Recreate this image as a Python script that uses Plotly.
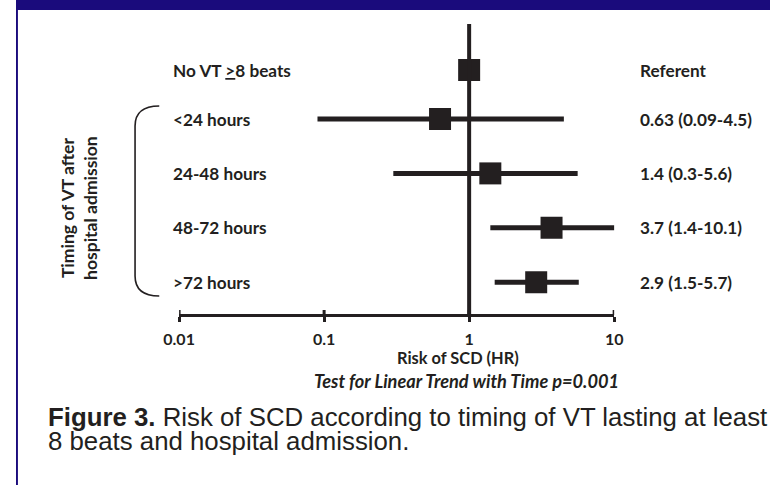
import plotly.graph_objects as go

# Forest plot: risk of sudden cardiac death by timing of VT after admission
groups = ["No VT <u>&gt;</u>8 beats", "&lt;24 hours", "24-48 hours", "48-72 hours", "&gt;72 hours"]
hr = [1.0, 0.63, 1.4, 3.7, 2.9]
ci_low = [None, 0.09, 0.3, 1.4, 1.5]
ci_high = [None, 4.5, 5.6, 10.1, 5.7]
tick_vals = [0.01, 0.1, 1, 10]
tick_text = ["0.01", "0.1", "1", "10"]

W, H = 779, 485
INK = "#231f20"
NAVY = "#1a0b7c"
LABEL_FONT = "Lato"

# vertical pixel position of each row (referent row sits a bit higher)
def row_y(i):
    return 70 if i == 0 else 119 + (i - 1) * 54.4

AXIS_Y = 315
AX_LEFT, AX_RIGHT = 168.5, 618

def px(x):
    return x / W

fig = go.Figure()

# confidence interval lines
for i, (lo, hi) in enumerate(zip(ci_low, ci_high)):
    if lo is None:
        continue
    fig.add_trace(go.Scatter(
        x=[lo, hi], y=[row_y(i)] * 2, mode="lines",
        line=dict(color=INK, width=5), hoverinfo="skip", showlegend=False,
    ))

# point estimates
fig.add_trace(go.Scatter(
    x=hr, y=[row_y(i) for i in range(len(hr))], mode="markers",
    marker=dict(symbol="square", size=22, color=INK, line=dict(width=0)),
    showlegend=False,
))

shapes = []
# line of no effect
shapes.append(dict(type="line", xref="x", yref="y", x0=1, x1=1, y0=24, y1=AXIS_Y,
                   line=dict(color=INK, width=4)))
# upper half of the crossing tick marks
for tv in tick_vals:
    shapes.append(dict(type="line", xref="x", yref="y", x0=tv, x1=tv,
                       y0=AXIS_Y - 5, y1=AXIS_Y, line=dict(color=INK, width=3)))
# bracket grouping the timing rows
bx0, bx1 = px(123), px(148)
shapes.append(dict(
    type="path", xref="paper", yref="y",
    path=f"M {bx1},106 Q {bx0},106 {bx0},126 L {bx0},276 Q {bx0},296 {bx1},296",
    line=dict(color=INK, width=1.6),
))
# frame bars along the top and left edges
shapes.append(dict(type="rect", xref="paper", yref="paper", x0=0, x1=1, y0=1 - 10 / H, y1=1,
                   fillcolor=NAVY, line=dict(width=0), layer="above"))
shapes.append(dict(type="rect", xref="paper", yref="paper", x0=0, x1=px(2), y0=0, y1=1,
                   fillcolor=NAVY, line=dict(width=0), layer="above"))

annotations = []
bold = dict(family=LABEL_FONT, size=17.2, color=INK, weight="bold")
for i, g in enumerate(groups):
    annotations.append(dict(xref="paper", yref="y", x=px(160), y=row_y(i), text=g,
                            xanchor="left", yanchor="middle", showarrow=False, font=bold))
    if ci_low[i] is None:
        est = "Referent"
    else:
        est = f"{hr[i]:g} ({ci_low[i]:g}-{ci_high[i]:g})"
    annotations.append(dict(xref="paper", yref="y", x=px(643), y=row_y(i), text=est,
                            xanchor="left", yanchor="middle", showarrow=False, font=bold))

annotations.append(dict(xref="paper", yref="y", x=px(65), y=208,
                        text="Timing of VT after<br>hospital admission", textangle=-90,
                        xanchor="center", yanchor="middle", showarrow=False,
                        font=dict(family=LABEL_FONT, size=17.5, color=INK, weight="bold")))
annotations.append(dict(xref="paper", yref="y", x=px(457), y=357, text="Risk of SCD (HR)",
                        xanchor="center", yanchor="middle", showarrow=False,
                        font=dict(family=LABEL_FONT, size=16.4, color=INK, weight="bold")))
annotations.append(dict(xref="paper", yref="y", x=px(465), y=381,
                        text="<i>Test for Linear Trend with Time p=0.001</i>",
                        xanchor="center", yanchor="middle", showarrow=False,
                        font=dict(family=LABEL_FONT, size=18.2, color=INK, weight="bold")))

# two-line figure caption, each line placed separately for tight leading
caption_font = dict(family="Liberation Sans", size=25.8, color=INK)
annotations.append(dict(xref="paper", yref="y", x=px(31), y=417,
                        text="<b>Figure 3.</b> Risk of SCD according to timing of VT lasting at least",
                        xanchor="left", yanchor="middle", showarrow=False, font=caption_font))
annotations.append(dict(xref="paper", yref="y", x=px(31), y=441,
                        text="8 beats and hospital admission.",
                        xanchor="left", yanchor="middle", showarrow=False, font=caption_font))

fig.update_layout(
    width=W, height=H,
    margin=dict(l=0, r=0, t=0, b=0),
    paper_bgcolor="white", plot_bgcolor="white",
    showlegend=False,
    xaxis=dict(
        type="log", range=[-2, 1], domain=[px(AX_LEFT), px(AX_RIGHT)],
        anchor="free", position=1 - AXIS_Y / H,
        showline=True, linecolor=INK, linewidth=3,
        ticks="outside", ticklen=5, tickwidth=3, tickcolor=INK,
        tickvals=tick_vals, ticktext=tick_text, ticklabelstandoff=4,
        tickfont=dict(family=LABEL_FONT, size=16, color=INK, weight="bold"),
        showgrid=False, zeroline=False,
    ),
    yaxis=dict(range=[H, 0], domain=[0, 1], visible=False, showgrid=False, zeroline=False),
    shapes=shapes,
    annotations=annotations,
)

fig.write_html("out.html", config={"displayModeBar": False})
